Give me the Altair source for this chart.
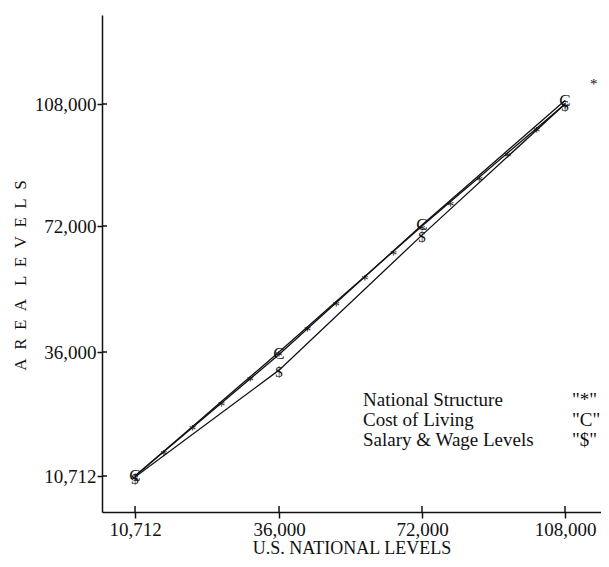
import altair as alt
import pandas as pd

# ---- data ----
nat_vals = [10712, 15770, 20827, 25885, 30942, 36000, 43200, 50400, 57600,
            64800, 72000, 79200, 86400, 93600, 100800, 108000, 115200]
col_x = [10712, 36000, 72000, 108000]
col_y = [10712, 35500, 72300, 109000]
sal_x = [10712, 36000, 72000, 108000]
sal_y = [10500, 32300, 69400, 108000]
tick_vals = [10712, 36000, 72000, 108000]
legend_labels = ["National Structure", "Cost of Living", "Salary & Wage Levels"]
legend_symbols = ['"*"', '"C"', '"$"']

FONT = "Liberation Serif"
INK = "#111111"
W, H = 499, 497
NB = "\u00a0"

nat = pd.DataFrame({"x": nat_vals, "y": nat_vals})
col = pd.DataFrame({"x": col_x, "y": col_y})
sal = pd.DataFrame({"x": sal_x, "y": sal_y})
ticks = pd.DataFrame({"v": tick_vals})

xscale = alt.Scale(domain=[4900, 10712, 36000, 72000, 108000, 117000],
                   range=[0, 33, 177, 320, 463, 499], zero=False, nice=False)
yscale = alt.Scale(domain=[3371, 10712, 36000, 72000, 108000, 134262],
                   range=[497, 461, 337, 211, 89, 0], zero=False, nice=False)

ytitle = (NB * 2).join(list("AREA")) + NB * 3 + (NB * 2).join(list("LEVELS"))

xaxis = alt.Axis(values=tick_vals, format=",d", grid=False, title="U.S. NATIONAL LEVELS",
                 labelFont=FONT, labelFontSize=19, labelColor=INK,
                 titleFont=FONT, titleFontSize=18, titleFontWeight="normal", titleColor=INK,
                 tickSize=6, tickColor=INK, tickWidth=1.5, domainColor=INK, domainWidth=1.5,
                 labelPadding=2, titlePadding=0, labelFlush=False, labelOverlap=False)
yaxis = alt.Axis(values=tick_vals, format=",d", grid=False, title=ytitle,
                 labelFont=FONT, labelFontSize=19, labelColor=INK,
                 titleFont=FONT, titleFontSize=17, titleFontWeight="normal", titleColor=INK,
                 titleX=-77, titleY=260, titleBaseline="alphabetic", titleAngle=270,
                 tickSize=5, tickColor=INK, tickWidth=1.5, domainColor=INK, domainWidth=1.5,
                 labelPadding=1, labelFlush=False, labelOverlap=False)

X = alt.X("x:Q", scale=xscale, axis=xaxis)
Y = alt.Y("y:Q", scale=yscale, axis=yaxis)

line_style = dict(color=INK, stroke=INK, strokeWidth=1.3)

nat_line = alt.Chart(nat).transform_filter(alt.datum.x <= 108000).mark_line(**line_style).encode(x=X, y=Y)
col_line = alt.Chart(col).mark_line(**line_style).encode(x=X, y=Y)
sal_line = alt.Chart(sal).mark_line(**line_style).encode(x=X, y=Y)

nat_pts = alt.Chart(nat).mark_text(text="*", font=FONT, fontSize=15, dy=4,
                                   color=INK, fill=INK).encode(x=X, y=Y)
col_pts = alt.Chart(col).mark_text(text="C", font=FONT, fontSize=17,
                                   color=INK, fill=INK).encode(x=X, y=Y)
sal_pts = alt.Chart(sal).mark_text(text="$", font=FONT, fontSize=15, dy=2,
                                   color=INK, fill=INK).encode(x=X, y=Y)

# inward half of the cross-shaped ticks
xt_in = alt.Chart(ticks).mark_rule(color=INK, strokeWidth=1.5).encode(
    x=alt.X("v:Q", scale=xscale), y=alt.value(H - 6), y2=alt.value(H))
yt_in = alt.Chart(ticks).mark_rule(color=INK, strokeWidth=1.5).encode(
    y=alt.Y("v:Q", scale=yscale), x=alt.value(0), x2=alt.value(5))

legend_layers = []
for i, (lab, sym) in enumerate(zip(legend_labels, legend_symbols)):
    ly = 385 + 20 * i
    legend_layers.append(alt.Chart(pd.DataFrame({"t": [lab]})).mark_text(
        font=FONT, fontSize=19, align="left", baseline="middle", color=INK, fill=INK).encode(
        text="t:N", x=alt.value(261), y=alt.value(ly)))
    legend_layers.append(alt.Chart(pd.DataFrame({"t": [sym]})).mark_text(
        font=FONT, fontSize=19, align="left", baseline="middle", color=INK, fill=INK).encode(
        text="t:N", x=alt.value(470), y=alt.value(ly)))

chart = alt.layer(nat_line, col_line, sal_line, xt_in, yt_in,
                  nat_pts, col_pts, sal_pts, *legend_layers).properties(
    width=W, height=H,
    autosize=alt.AutoSizeParams(type="none"),
    padding={"left": 94, "top": 7, "right": 0, "bottom": 44},
    background="white",
).configure_view(stroke=None)

chart.save("out.html", embed_options={"renderer": "svg", "actions": False})
